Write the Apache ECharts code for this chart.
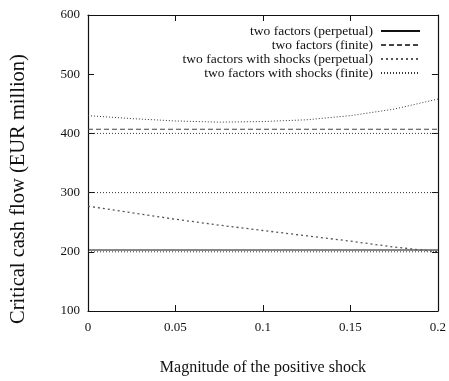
<!DOCTYPE html>
<html>
<head>
<meta charset="utf-8">
<script src="https://cdn.jsdelivr.net/npm/echarts@6/dist/echarts.min.js"></script>
<style>
  html, body { margin: 0; padding: 0; background: #fff; }
  #chart { width: 449px; height: 381px; }
</style>
</head>
<body>
<div id="chart"></div>
<script>
// Magnitude of the positive shock (x values)
const shockX = [0, 0.025, 0.05, 0.075, 0.1, 0.125, 0.15, 0.175, 0.2];

// Critical cash flow, EUR million
const twoFactorsPerpetual = [203, 203, 203, 203, 203, 203, 203, 203, 203];
const twoFactorsFinite = [407, 407, 407, 407, 407, 407, 407, 407, 407];
const shocksPerpetual = [277, 266, 255, 245, 236, 227, 218, 208, 200];
const shocksFiniteCurve = [430, 425, 421, 419, 420, 423, 430, 441, 458];
const shocksFiniteLevels = [400, 300, 200];

const seriesNames = [
  'two factors (perpetual)',
  'two factors (finite)',
  'two factors with shocks (perpetual)',
  'two factors with shocks (finite)'
];

const xTicks = { min: 0, max: 0.2, interval: 0.05 };
const yTicks = { min: 100, max: 600, interval: 100 };

const FONT = '"Liberation Serif", "Times New Roman", serif';

function pairs(ys) {
  return shockX.map((x, i) => [x, ys[i]]);
}

const lineStyles = [
  { color: '#111', width: 1.2, type: 'solid' },
  { color: '#444', width: 1.2, type: [5, 3] },
  { color: '#555', width: 1.3, type: [2, 3] },
  { color: '#333', width: 1, type: [1, 2] }
];

const series = [
  { name: seriesNames[0], data: pairs(twoFactorsPerpetual), lineStyle: lineStyles[0] },
  { name: seriesNames[1], data: pairs(twoFactorsFinite), lineStyle: lineStyles[1] },
  { name: seriesNames[2], data: pairs(shocksPerpetual), lineStyle: lineStyles[2] },
  { name: seriesNames[3], data: pairs(shocksFiniteCurve), lineStyle: lineStyles[3] }
].concat(shocksFiniteLevels.map(v => ({
  name: seriesNames[3],
  data: pairs(shockX.map(() => v)),
  lineStyle: lineStyles[3]
}))).map(s => Object.assign({
  type: 'line',
  symbol: 'none',
  silent: true,
  animation: false,
  xAxisIndex: 0,
  yAxisIndex: 0
}, s));

// one right-aligned legend row per series, sample line on the right
const legendTops = [24, 38, 52, 66];
const legends = seriesNames.map((n, i) => ({
  data: [n],
  right: 28,
  top: legendTops[i],
  padding: 0,
  align: 'right',
  itemWidth: 39,
  itemHeight: 14,
  selectedMode: false,
  itemStyle: { opacity: 0 },
  textStyle: { fontFamily: FONT, fontSize: 13.5, color: '#111', padding: [0, 3, 0, 0] }
}));

const tick = { show: true, inside: true, length: 6, lineStyle: { color: '#111', width: 1 } };
const line = { show: true, onZero: false, lineStyle: { color: '#111', width: 1.2 } };

const option = {
  backgroundColor: '#fff',
  animation: false,
  grid: { left: 88, right: 11, top: 15, bottom: 70 },
  legend: legends,
  xAxis: [
    Object.assign({
      type: 'value', position: 'bottom',
      name: 'Magnitude of the positive shock',
      nameLocation: 'middle', nameGap: 49,
      nameTextStyle: { fontFamily: FONT, fontSize: 16, color: '#111' },
      axisLine: line, axisTick: tick,
      axisLabel: { fontFamily: FONT, fontSize: 13, color: '#111', margin: 10 },
      splitLine: { show: false }
    }, xTicks),
    Object.assign({
      type: 'value', position: 'top',
      axisLine: line, axisTick: tick,
      axisLabel: { show: false }, splitLine: { show: false }
    }, xTicks)
  ],
  yAxis: [
    Object.assign({
      type: 'value', position: 'left',
      name: 'Critical cash flow (EUR million)',
      nameLocation: 'middle', nameGap: 59, nameRotate: 90,
      nameTextStyle: { fontFamily: FONT, fontSize: 20.5, color: '#111', padding: [0, 52, 0, 0] },
      axisLine: line, axisTick: tick,
      axisLabel: { fontFamily: FONT, fontSize: 13, color: '#111', margin: 8 },
      splitLine: { show: false }
    }, yTicks),
    Object.assign({
      type: 'value', position: 'right',
      axisLine: line, axisTick: tick,
      axisLabel: { show: false }, splitLine: { show: false }
    }, yTicks)
  ],
  series: series
};

const chart = echarts.init(document.getElementById('chart'), null, { renderer: 'canvas' });
chart.setOption(option);
</script>
</body>
</html>
